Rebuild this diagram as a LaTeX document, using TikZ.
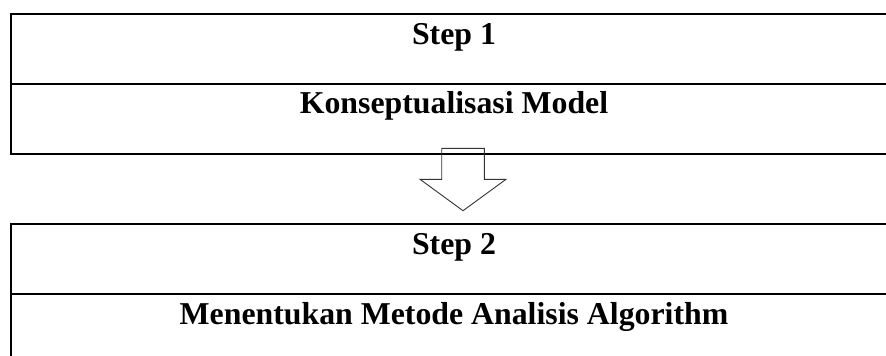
\documentclass[tikz,border=0pt]{standalone}
\usepackage{fontspec}
\setmainfont{Liberation Serif}
\begin{document}
\begin{tikzpicture}[x=1pt,y=-1pt,
  rowbox/.style={draw=black, line width=1.7pt, rectangle, inner sep=0pt,
    minimum width=888pt, minimum height=70pt, anchor=north west},
  label/.style={anchor=base, inner sep=0pt,
    font=\fontsize{31.8}{36}\selectfont\bfseries},
  blockarrow/.style={draw=black!80, line width=0.9pt, line join=miter, fill=none}]
  \useasboundingbox (0,0) rectangle (886,356);
  \clip (0,0) rectangle (886,356);

  % first step: two stacked rows
  \node[rowbox] (s1top) at (10,13) {};
  \node[rowbox] (s1bot) at (10,83) {};
  \node[label] (s1title) at (454,44) {Step 1};
  \node[label] (s1text) at (454,113.5) {Konseptualisasi Model};

  % second step: two stacked rows, lower edge runs off the page
  \node[rowbox] (s2top) at (10,223) {};
  \node[rowbox, minimum height=75pt] (s2bot) at (10,293) {};
  \node[label] (s2title) at (454,254) {Step 2};
  \node[label] (s2text) at (454,324) {Menentukan Metode Analisis Algorithm};

  % hollow block arrow between the steps
  \coordinate (atip) at (463,210.7);
  \draw[blockarrow] (441.7,148.3) -- (484.3,148.3) -- (484.3,179.3)
    -- (506,179.3) -- (atip) -- (420,179.3) -- (441.7,179.3) -- cycle;
\end{tikzpicture}
\end{document}
